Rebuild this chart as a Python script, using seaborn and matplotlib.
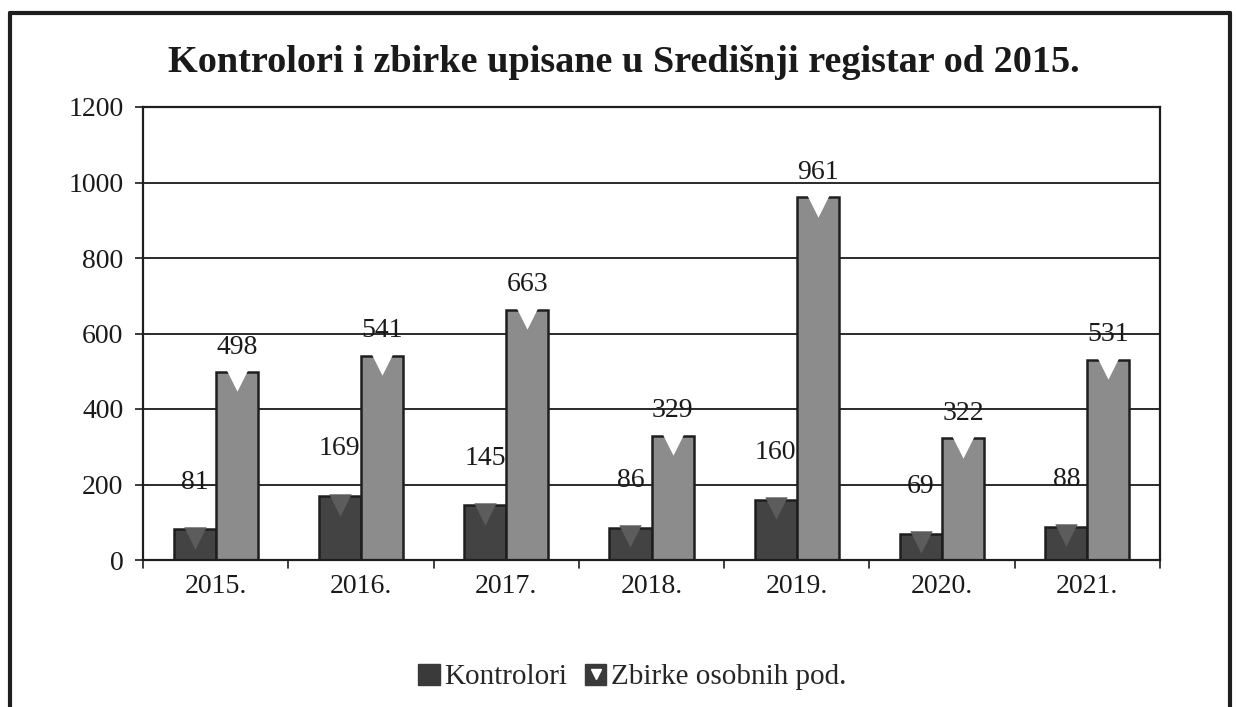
import matplotlib
matplotlib.use("agg")
import matplotlib.pyplot as plt
import pandas as pd
import seaborn as sns
from matplotlib.lines import Line2D
from matplotlib.legend_handler import HandlerTuple

# values
years = ["2015.", "2016.", "2017.", "2018.", "2019.", "2020.", "2021."]
kontrolori = [81, 169, 145, 86, 160, 69, 88]
zbirke = [498, 541, 663, 329, 961, 322, 531]
series_names = ["Kontrolori", "Zbirke osobnih pod."]
yticks = [0, 200, 400, 600, 800, 1000, 1200]

df = pd.DataFrame({
    "Godina": years * 2,
    "Broj": kontrolori + zbirke,
    "Serija": [series_names[0]] * len(years) + [series_names[1]] * len(years),
})

sns.set_style("white")
plt.rcParams["font.family"] = ["Liberation Serif", "DejaVu Serif"]

fig = plt.figure(figsize=(12.36, 7.07), dpi=100)
ax = fig.add_axes([143 / 1236, 1 - 560 / 707, (1160 - 143) / 1236, (560 - 107) / 707])

colors = {series_names[0]: "#434343", series_names[1]: "#8c8c8c"}
sns.barplot(data=df, x="Godina", y="Broj", hue="Serija", palette=colors,
            width=0.58, edgecolor="#1e1e1e", linewidth=1.8, ax=ax, legend=False)

# bevel-like triangles on top of bars, plus value labels
pads = [25, 9]
tri_col = ["#5c5c5c", "white"]
for i, cont in enumerate(ax.containers):
    ax.bar_label(cont, labels=[str(v) for v in (kontrolori, zbirke)[i]],
                 padding=pads[i], fontsize=20, color="#1a1a1a")
    for bar in cont:
        cx = bar.get_x() + bar.get_width() / 2
        ax.scatter(cx, bar.get_height() - 22, marker="v", s=260,
                   color=tri_col[i], zorder=5, linewidths=0)

ax.set_ylim(0, 1200)
ax.set_yticks(yticks)
ax.set_xlim(-0.5, len(years) - 0.5)
ax.yaxis.grid(True, color="#2a2a2a", linewidth=1.4)
ax.set_axisbelow(True)
ax.set_xlabel("")
ax.set_ylabel("")
ax.tick_params(axis="both", colors="#1a1a1a")
ax.tick_params(axis="y", labelsize=20, length=6, width=1.2, direction="out", left=True, pad=8)
ax.tick_params(axis="x", labelsize=20, length=0, pad=10)
# tick marks between categories
for b in range(len(years) + 1):
    ax.plot([b - 0.5, b - 0.5], [0, -22], color="#1e1e1e", lw=1.2, clip_on=False)

for s in ["left", "bottom", "top", "right"]:
    ax.spines[s].set_visible(True)
    ax.spines[s].set_color("#1e1e1e")
    ax.spines[s].set_linewidth(1.6)

fig.text(0.505, 1 - 62 / 707, "Kontrolori i zbirke upisane u Središnji registar od 2015.",
         ha="center", va="center", fontsize=27.5, fontweight="bold", color="#1a1a1a")

h1 = plt.Rectangle((0, 0), 1, 1, facecolor="#3a3a3a", edgecolor="#3a3a3a")
h2 = plt.Rectangle((0, 0), 1, 1, facecolor="#3a3a3a", edgecolor="#3a3a3a")
h2_tri = Line2D([], [], marker="v", color="white", ls="", markersize=7)
fig.legend([h1, (h2, h2_tri)], series_names, loc="center",
           bbox_to_anchor=(632 / 1236, 1 - 677 / 707),
           handler_map={tuple: HandlerTuple(ndivide=1, pad=0)},
           ncol=2, frameon=False, fontsize=21, handlelength=0.75, handleheight=0.75,
           handletextpad=0.15, columnspacing=0.6)

# outer frame of the scanned chart
fw = 3
fig.add_artist(Line2D([10 / 1236, 1230 / 1236], [1 - 13 / 707, 1 - 13 / 707], color="#1e1e1e", lw=fw))
fig.add_artist(Line2D([10 / 1236, 10 / 1236], [0, 1 - 13 / 707], color="#1e1e1e", lw=fw))
fig.add_artist(Line2D([1230 / 1236, 1230 / 1236], [0, 1 - 13 / 707], color="#1e1e1e", lw=fw))

fig.savefig("out.png", dpi=100)
